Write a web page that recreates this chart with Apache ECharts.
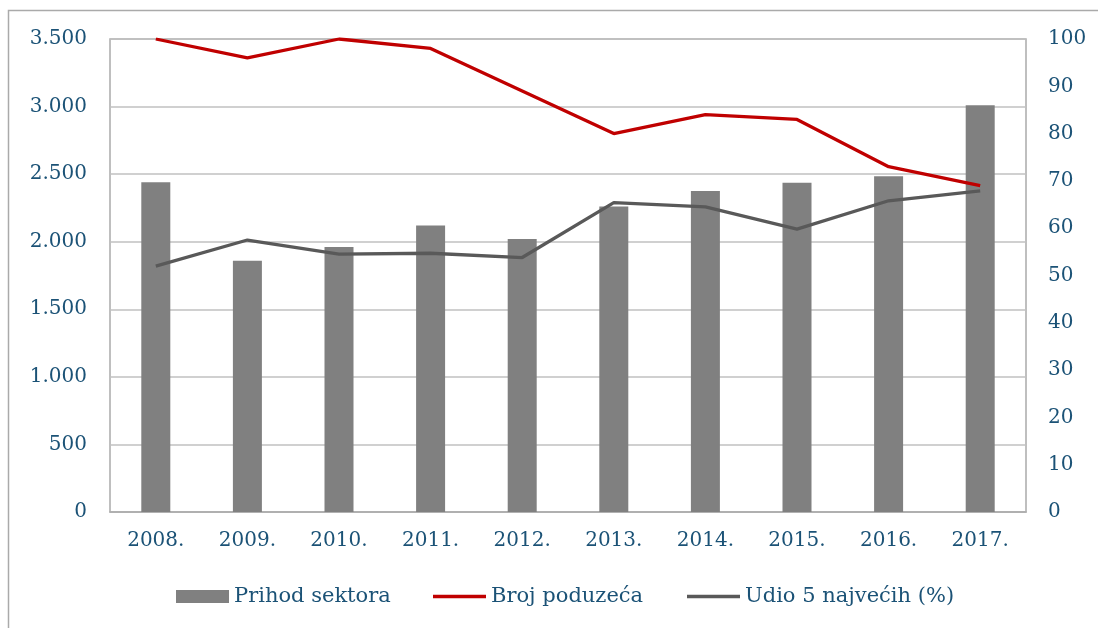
<!DOCTYPE html>
<html>
<head>
<meta charset="utf-8">
<style>html,body{margin:0;padding:0;background:#fff}#c{width:1098px;height:628px}</style>
<script src="https://cdn.jsdelivr.net/npm/echarts@6/dist/echarts.min.js"></script>
</head>
<body>
<div id="c"></div>
<script>
var categories = ['2008.', '2009.', '2010.', '2011.', '2012.', '2013.', '2014.', '2015.', '2016.', '2017.'];
var prihodSektora = [2440, 1860, 1960, 2120, 2020, 2260, 2375, 2437, 2484, 3010];
var brojPoduzeca = [100, 96, 100, 98, 89, 80, 84, 83, 73, 69];
var udio5 = [52, 57.5, 54.5, 54.7, 53.8, 65.4, 64.5, 59.8, 65.8, 67.9];
var leftTicks = { min: 0, max: 3500, interval: 500 };
var rightTicks = { min: 0, max: 100, interval: 10 };

var textColor = '#1b5276';
var font = 'DejaVu Serif';
var legendText = {
  fontFamily: font, fontSize: 21, color: textColor,
  rich: { t: { fontFamily: font, fontSize: 21, color: textColor } }
};
function mkLegend(name, left, h) {
  return {
    top: 581, left: left, itemWidth: 53, itemHeight: h, itemGap: 0,
    icon: 'rect', textStyle: legendText, selectedMode: false,
    formatter: '{t|{name}}',
    data: [{ name: name, icon: 'rect' }]
  };
}
var chart = echarts.init(document.getElementById('c'), null, { renderer: 'canvas' });
chart.setOption({
  backgroundColor: '#ffffff',
  animation: false,
  textStyle: { fontFamily: font, color: textColor },
  graphic: [{
    type: 'polyline', silent: true,
    shape: { points: [[8.5, 700], [8.5, 10.5], [1200, 10.5]] },
    style: { fill: null, stroke: '#aaaaaa', lineWidth: 1.5 }
  }],
  grid: { left: 110, right: 72, top: 39, bottom: 116, show: true, borderColor: '#ababab', borderWidth: 1.5 },
  legend: [
    mkLegend('Prihod sektora', 171, 13),
    mkLegend('Broj poduzeća', 428, 3.5),
    mkLegend('Udio 5 najvećih (%)', 682, 3.5)
  ],
  xAxis: {
    type: 'category', data: categories,
    axisLine: { show: true, lineStyle: { color: '#ababab', width: 1.5 } },
    axisTick: { show: false },
    axisLabel: { fontFamily: font, fontSize: 20, color: textColor, margin: 19 }
  },
  yAxis: [{
    type: 'value', min: leftTicks.min, max: leftTicks.max, interval: leftTicks.interval,
    axisLine: { show: false }, axisTick: { show: false },
    splitLine: { lineStyle: { color: '#c0c0c0', width: 1.5 } },
    axisLabel: {
      fontFamily: font, fontSize: 20, color: textColor, margin: 23,
      formatter: function (v) { return v >= 1000 ? Math.floor(v / 1000) + '.' + String(v % 1000).padStart(3, '0') : String(v); }
    }
  }, {
    type: 'value', min: rightTicks.min, max: rightTicks.max, interval: rightTicks.interval,
    axisLine: { show: false }, axisTick: { show: false }, splitLine: { show: false },
    axisLabel: { fontFamily: font, fontSize: 20, color: textColor, margin: 22 }
  }],
  series: [{
    name: 'Prihod sektora', type: 'bar', data: prihodSektora, yAxisIndex: 0, barWidth: 29,
    itemStyle: { color: '#808080' }
  }, {
    name: 'Broj poduzeća', type: 'line', data: brojPoduzeca, yAxisIndex: 1,
    symbol: 'none', lineStyle: { color: '#c00000', width: 3.3 }, itemStyle: { color: '#c00000' }
  }, {
    name: 'Udio 5 najvećih (%)', type: 'line', data: udio5, yAxisIndex: 1,
    symbol: 'none', lineStyle: { color: '#595959', width: 3.3 }, itemStyle: { color: '#595959' }
  }]
});
</script>
</body>
</html>
